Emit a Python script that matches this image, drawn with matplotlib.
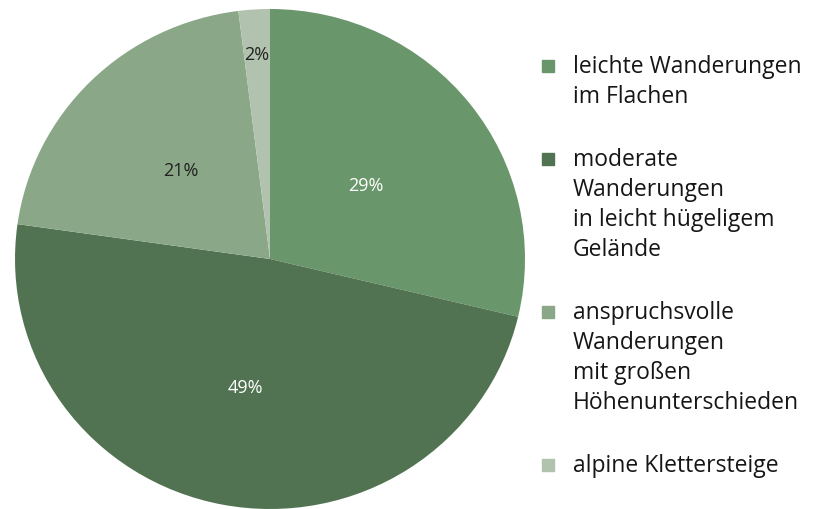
import matplotlib
matplotlib.use("Agg")
import numpy as np
import matplotlib.pyplot as plt
from matplotlib.patches import Rectangle

# Data
labels = [
    "leichte Wanderungen\nim Flachen",
    "moderate\nWanderungen\nin leicht hügeligem\nGelände",
    "anspruchsvolle\nWanderungen\nmit großen\nHöhenunterschieden",
    "alpine Klettersteige",
]
shares = [29, 49, 21, 2]
pct_labels = ["29%", "49%", "21%", "2%"]

colors = ["#6a966b", "#527352", "#8aa887", "#b1c2ae"]
pct_colors = ["white", "white", "#222222", "#222222"]
pct_dist = [0.48, 0.52, 0.5, 0.82]

plt.rcParams["font.family"] = ["Open Sans", "DejaVu Sans"]

fig = plt.figure(figsize=(8.26, 5.10), dpi=100)
ax = fig.add_axes([15 / 826, 0.0, 510 / 826, 500 / 510])

wedges, texts, autotexts = ax.pie(
    shares, colors=colors, startangle=90, counterclock=False,
    autopct="%d%%", pctdistance=0.5, wedgeprops=dict(linewidth=0),
    textprops=dict(fontsize=13),
)
ax.set_aspect("auto")
ax.set_xlim(-1, 1)
ax.set_ylim(-1, 1)

# put each percentage label where the reference has it
for w, t, lab, c, d in zip(wedges, autotexts, pct_labels, pct_colors, pct_dist):
    ang = np.deg2rad((w.theta1 + w.theta2) / 2)
    t.set_text(lab)
    t.set_color(c)
    t.set_position((d * np.cos(ang), d * np.sin(ang)))

# manual legend on the right
line_h = 30 / 510
gap = 33 / 510
y = 1 - 67 / 510
for lab, c in zip(labels, colors):
    fig.patches.append(Rectangle((542 / 826, y - 6 / 510), 12 / 826, 12 / 510,
                                 transform=fig.transFigure, color=c))
    for line in lab.split("\n"):
        fig.text(573 / 826, y, line, fontsize=16.5, fontweight="medium",
                 color="#161616", va="center", ha="left")
        y -= line_h
    y -= gap

fig.savefig("out.png", dpi=100)
